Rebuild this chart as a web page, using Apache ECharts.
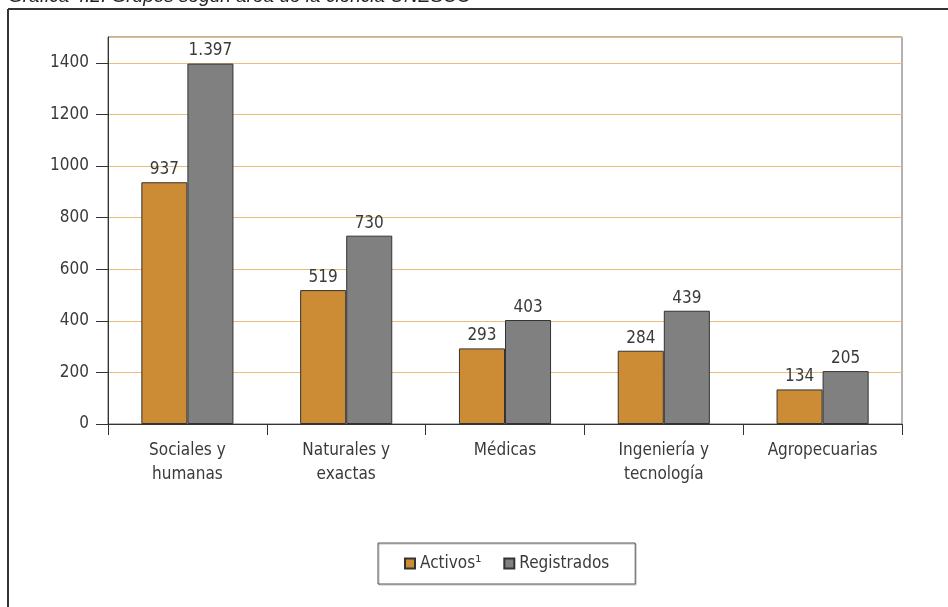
<!DOCTYPE html>
<html>
<head>
<meta charset="utf-8">
<style>
  html, body { margin: 0; padding: 0; background: #fff; }
  #chart { width: 948px; height: 607px; }
</style>
<script src="https://cdn.jsdelivr.net/npm/echarts@6/dist/echarts.min.js"></script>
</head>
<body>
<div id="chart"></div>
<script>
// Grupos de investigación por área de la ciencia (UNESCO)
const categories = ['Sociales y\nhumanas', 'Naturales y\nexactas', 'Médicas', 'Ingeniería y\ntecnología', 'Agropecuarias'];
const activos = [937, 519, 293, 284, 134];
const registrados = [1397, 730, 403, 439, 205];
const seriesNames = ['Activos\u00b9', 'Registrados'];
const yTicks = { min: 0, max: 1500, interval: 200 };

const FONT = "'Liberation Sans Narrow', 'DejaVu Sans Condensed', 'Roboto Condensed', sans-serif";
const TEXT = '#3a3a3a';

// thousands separator with a dot
function fmt(v) {
  return String(v).replace(/\B(?=(\d{3})+(?!\d))/g, '.');
}

const chart = echarts.init(document.getElementById('chart'), null, { renderer: 'canvas' });

const barLabel = {
  show: true,
  position: 'top',
  distance: 4,
  color: TEXT,
  fontFamily: FONT,
  fontSize: 17,
  formatter: p => fmt(p.value)
};

chart.setOption({
  animation: false,
  backgroundColor: '#fff',
  textStyle: { fontFamily: FONT },
  graphic: [
    {
      type: 'text', left: 8, top: -13,
      style: { text: 'Gráfica 4.2. Grupos según área de la ciencia UNESCO', fontFamily: "'Liberation Sans', Arial, sans-serif", fontStyle: 'italic', fontSize: 19, fill: '#222' }
    },
    {
      type: 'line', shape: { x1: 8, y1: 9, x2: 948, y2: 9 },
      style: { stroke: '#333', lineWidth: 2 }
    },
    {
      type: 'line', shape: { x1: 8, y1: 9, x2: 8, y2: 607 },
      style: { stroke: '#333', lineWidth: 2 }
    }
  ],
  grid: {
    left: 108, right: 46, top: 37, bottom: 183,
    show: true, borderColor: '#666', borderWidth: 1
  },
  legend: {
    data: seriesNames,
    left: 378, top: 543,
    width: 256,
    padding: [12, 26, 12, 26],
    itemWidth: 10, itemHeight: 10, itemGap: 22,
    borderColor: '#555', borderWidth: 1,
    shadowColor: 'rgba(0,0,0,0.25)', shadowOffsetX: 1, shadowOffsetY: 1,
    icon: 'rect',
    textStyle: { color: TEXT, fontFamily: FONT, fontSize: 17, padding: [0, 0, 0, 0] }
  },
  xAxis: {
    type: 'category',
    data: categories,
    axisLine: { lineStyle: { color: '#333', width: 1 } },
    axisTick: { show: true, alignWithLabel: false, length: 11, lineStyle: { color: '#333' } },
    axisLabel: { color: TEXT, fontFamily: FONT, fontSize: 17, lineHeight: 24, margin: 15, interval: 0 }
  },
  yAxis: {
    type: 'value',
    min: yTicks.min, max: yTicks.max, interval: yTicks.interval,
    axisLine: { show: true, lineStyle: { color: '#333', width: 1 } },
    axisTick: { show: true, length: 12, lineStyle: { color: '#333' } },
    axisLabel: { color: TEXT, fontFamily: FONT, fontSize: 17, margin: 19, showMaxLabel: false, formatter: v => String(v) },
    splitLine: { show: true, lineStyle: { color: '#ebbd7c', width: 1 } }
  },
  series: [
    {
      name: seriesNames[0], type: 'bar', data: activos,
      barGap: '0%', barCategoryGap: '42%',
      itemStyle: { color: '#cc8b35', borderColor: '#333', borderWidth: 1 },
      label: barLabel
    },
    {
      name: seriesNames[1], type: 'bar', data: registrados,
      itemStyle: { color: '#808080', borderColor: '#333', borderWidth: 1 },
      label: barLabel
    }
  ]
});
</script>
</body>
</html>
